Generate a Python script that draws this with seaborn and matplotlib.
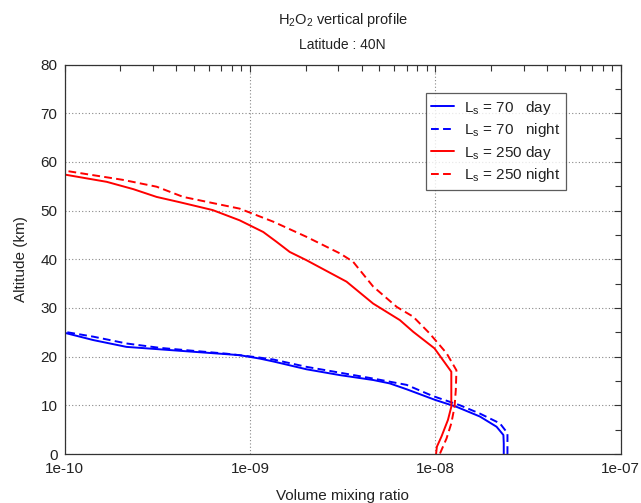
import numpy as np
import pandas as pd
import matplotlib
matplotlib.use("Agg")
import matplotlib.pyplot as plt
import matplotlib.ticker as mticker
import seaborn as sns

# H2O2 volume mixing ratio profiles, latitude 40N
alt_ls70_day = [0.0, 2.2, 3.9, 5.6, 7.7, 9.7, 11.1, 13.3, 14.5, 15.2, 16.2, 17.4,
                19.0, 19.6, 20.3, 20.5, 21.0, 21.5, 22.0, 23.4, 24.9, 25.3]
vmr_ls70_day = [2.34e-8, 2.34e-8, 2.33e-8, 2.14e-8, 1.74e-8, 1.30e-8, 1.0e-8, 7.0e-9,
                5.68e-9, 4.62e-9, 3.06e-9, 2.02e-9, 1.34e-9, 1.13e-9, 8.8e-10, 7.5e-10,
                4.94e-10, 3.27e-10, 2.16e-10, 1.43e-10, 1.0e-10, 9.5e-11]

alt_ls70_night = [0.0, 4.3, 6.3, 8.3, 10.0, 11.9, 14.2, 15.5, 16.7, 17.9, 19.4, 19.8,
                  20.6, 21.2, 21.8, 22.7, 24.1, 25.1, 25.5]
vmr_ls70_night = [2.45e-8, 2.45e-8, 2.23e-8, 1.74e-8, 1.36e-8, 9.7e-9, 7.0e-9, 4.62e-9,
                  3.06e-9, 2.02e-9, 1.34e-9, 1.13e-9, 7.5e-10, 4.94e-10, 3.27e-10,
                  2.16e-10, 1.43e-10, 1.0e-10, 9.5e-11]

alt_ls250_day = [0.1, 1.5, 3.6, 7.0, 9.7, 13.1, 16.9, 21.7, 25.1, 27.5, 30.9, 35.4,
                 39.8, 41.5, 43.6, 45.6, 48.0, 50.1, 51.7, 52.8, 54.4, 55.9, 57.4, 57.6]
vmr_ls250_day = [1.01e-8, 1.02e-8, 1.08e-8, 1.17e-8, 1.22e-8, 1.22e-8, 1.22e-8, 9.9e-9,
                 7.6e-9, 6.44e-9, 4.62e-9, 3.32e-9, 2.02e-9, 1.64e-9, 1.39e-9, 1.18e-9,
                 8.8e-10, 6.3e-10, 4.2e-10, 3.14e-10, 2.35e-10, 1.69e-10, 1.0e-10, 9.5e-11]

alt_ls250_night = [0.1, 3.2, 6.3, 9.7, 13.1, 17.2, 20.7, 24.8, 28.2, 30.2, 34.4, 39.5,
                   41.2, 44.6, 47.7, 50.4, 52.8, 54.9, 56.3, 58.2, 58.4]
vmr_ls250_night = [1.06e-8, 1.15e-8, 1.22e-8, 1.27e-8, 1.29e-8, 1.30e-8, 1.15e-8, 9.3e-9,
                   7.6e-9, 6.2e-9, 4.62e-9, 3.6e-9, 3.06e-9, 2.02e-9, 1.34e-9, 8.8e-10,
                   4.37e-10, 3.14e-10, 2.07e-10, 1.0e-10, 9.5e-11]

series_labels = [r"L$_\mathregular{s}$ = 70   day",
                 r"L$_\mathregular{s}$ = 70   night",
                 r"L$_\mathregular{s}$ = 250 day",
                 r"L$_\mathregular{s}$ = 250 night"]
series_colors = ["#0000ff", "#0000ff", "#ff0000", "#ff0000"]
series_dashed = [False, True, False, True]

x_ticks = [1e-10, 1e-9, 1e-8, 1e-7]
x_tick_labels = ["1e-10", "1e-09", "1e-08", "1e-07"]
y_ticks = [0, 10, 20, 30, 40, 50, 60, 70, 80]

sns.set_theme(style="white")
plt.rcParams["font.family"] = ["Liberation Sans", "DejaVu Sans"]
plt.rcParams["mathtext.fontset"] = "custom"
plt.rcParams["mathtext.rm"] = "Liberation Sans"
plt.rcParams["mathtext.it"] = "Liberation Sans"
plt.rcParams["mathtext.default"] = "regular"

W, H = 641, 503
fig = plt.figure(figsize=(W / 100, H / 100), dpi=100)
left, right, top, bottom = 64.5, 620.7, 64.5, 454.0
ax = fig.add_axes([left / W, 1 - bottom / H, (right - left) / W, (bottom - top) / H])

profiles = [(alt_ls70_day, vmr_ls70_day), (alt_ls70_night, vmr_ls70_night),
            (alt_ls250_day, vmr_ls250_day), (alt_ls250_night, vmr_ls250_night)]

for (alt, vmr), label, color, dashed in zip(profiles, series_labels, series_colors, series_dashed):
    df = pd.DataFrame({"vmr": vmr, "alt": alt})
    sns.lineplot(data=df, x="vmr", y="alt", sort=False, estimator=None, ax=ax,
                 color=color, linewidth=1.4, label=label,
                 linestyle=(0, (4, 2.2)) if dashed else "-")

ax.set_xscale("log")
ax.set_xlim(1e-10, 1e-7)
ax.set_ylim(0, 80)
ax.set_xticks(x_ticks)
ax.set_xticklabels(x_tick_labels)
ax.xaxis.set_minor_locator(mticker.LogLocator(base=10, subs=np.arange(2, 10)))
ax.xaxis.set_minor_formatter(mticker.NullFormatter())
ax.set_yticks(y_ticks)
ax.yaxis.set_minor_locator(mticker.MultipleLocator(5))

ax.grid(True, which="major", color="#888888", linestyle=(0, (1, 2)), linewidth=0.8)
ax.tick_params(which="both", direction="in", top=True, right=True, color="#333333",
               labelsize=11, width=0.8, labelcolor="#222222")
ax.tick_params(axis="x", which="major", length=5, pad=6)
ax.tick_params(axis="y", which="major", length=5, pad=5)
ax.tick_params(which="minor", length=4.5)
for s in ax.spines.values():
    s.set_color("#333333")
    s.set_linewidth(0.9)

ax.set_xlabel("Volume mixing ratio", fontsize=11, labelpad=9, color="#222222")
ax.set_ylabel("Altitude (km)", fontsize=11, labelpad=9, color="#222222")

fig.text((left + right) / 2 / W, 1 - 20 / H, r"H$_2$O$_2$ vertical profile",
         ha="center", va="center", fontsize=10.5, color="#222222")
fig.text((left + right) / 2 / W, 1 - 45 / H, "Latitude : 40N",
         ha="center", va="center", fontsize=10, color="#222222")

leg = ax.legend(loc="upper left", bbox_to_anchor=(425.7 / W, 1 - 93.3 / H),
                bbox_transform=fig.transFigure, borderaxespad=0, frameon=True,
                fancybox=False, edgecolor="#333333", fontsize=11,
                handlelength=1.5, handletextpad=0.65, labelspacing=0.3,
                borderpad=0.35)
leg.get_frame().set_linewidth(0.9)
for t in leg.get_texts():
    t.set_color("#222222")

fig.savefig("out.png", dpi=100)
